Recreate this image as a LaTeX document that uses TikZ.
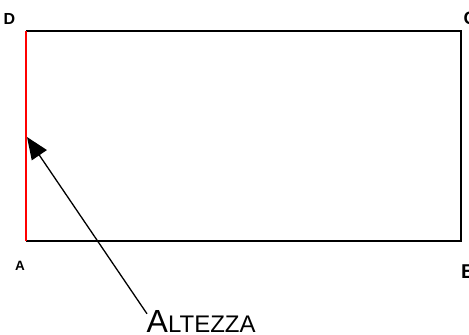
\documentclass[tikz,border=0pt]{standalone}
\usepackage{fontspec}
\setmainfont{Liberation Sans}
\usetikzlibrary{arrows.meta}
\tikzset{
  corner/.style={inner sep=0pt},
  side/.style={line width=1.4pt, draw=black},
}
\newcommand{\lbl}[2]{{\fontsize{#1}{#1}\selectfont\bfseries #2}}
\begin{document}
\begin{tikzpicture}[x=1pt,y=-1pt]
\useasboundingbox (0,0) rectangle (469,335);
\coordinate (A) at (26,241);
\coordinate (B) at (461,241);
\coordinate (C) at (461,31);
\coordinate (D) at (26,31);
\draw[side] (A) -- (B) -- (C) -- (D);
\draw[line width=1.4pt, red] (D) -- (A);
\node[corner] (lD) at (9.5,19) {\lbl{16}{D}};
\node[corner, anchor=west] (lC) at (463.5,18.5) {\lbl{18}{C}};
\node[corner] (lA) at (20,265.5) {\lbl{13.5}{A}};
\node[corner, anchor=west] (lB) at (461,271.5) {\lbl{20}{B}};
\node[inner sep=0pt, anchor=base west] (alt) at (146.5,332) {\fontsize{32}{32}\selectfont A\fontsize{24}{24}\selectfont LTEZZA};
\coordinate (tip) at (27,137);
\draw[line width=1.3pt, -{Triangle[length=22pt,width=18pt]}] (alt.north west) ++(0.5,4) coordinate (st) (st) -- (tip);
\end{tikzpicture}
\end{document}
